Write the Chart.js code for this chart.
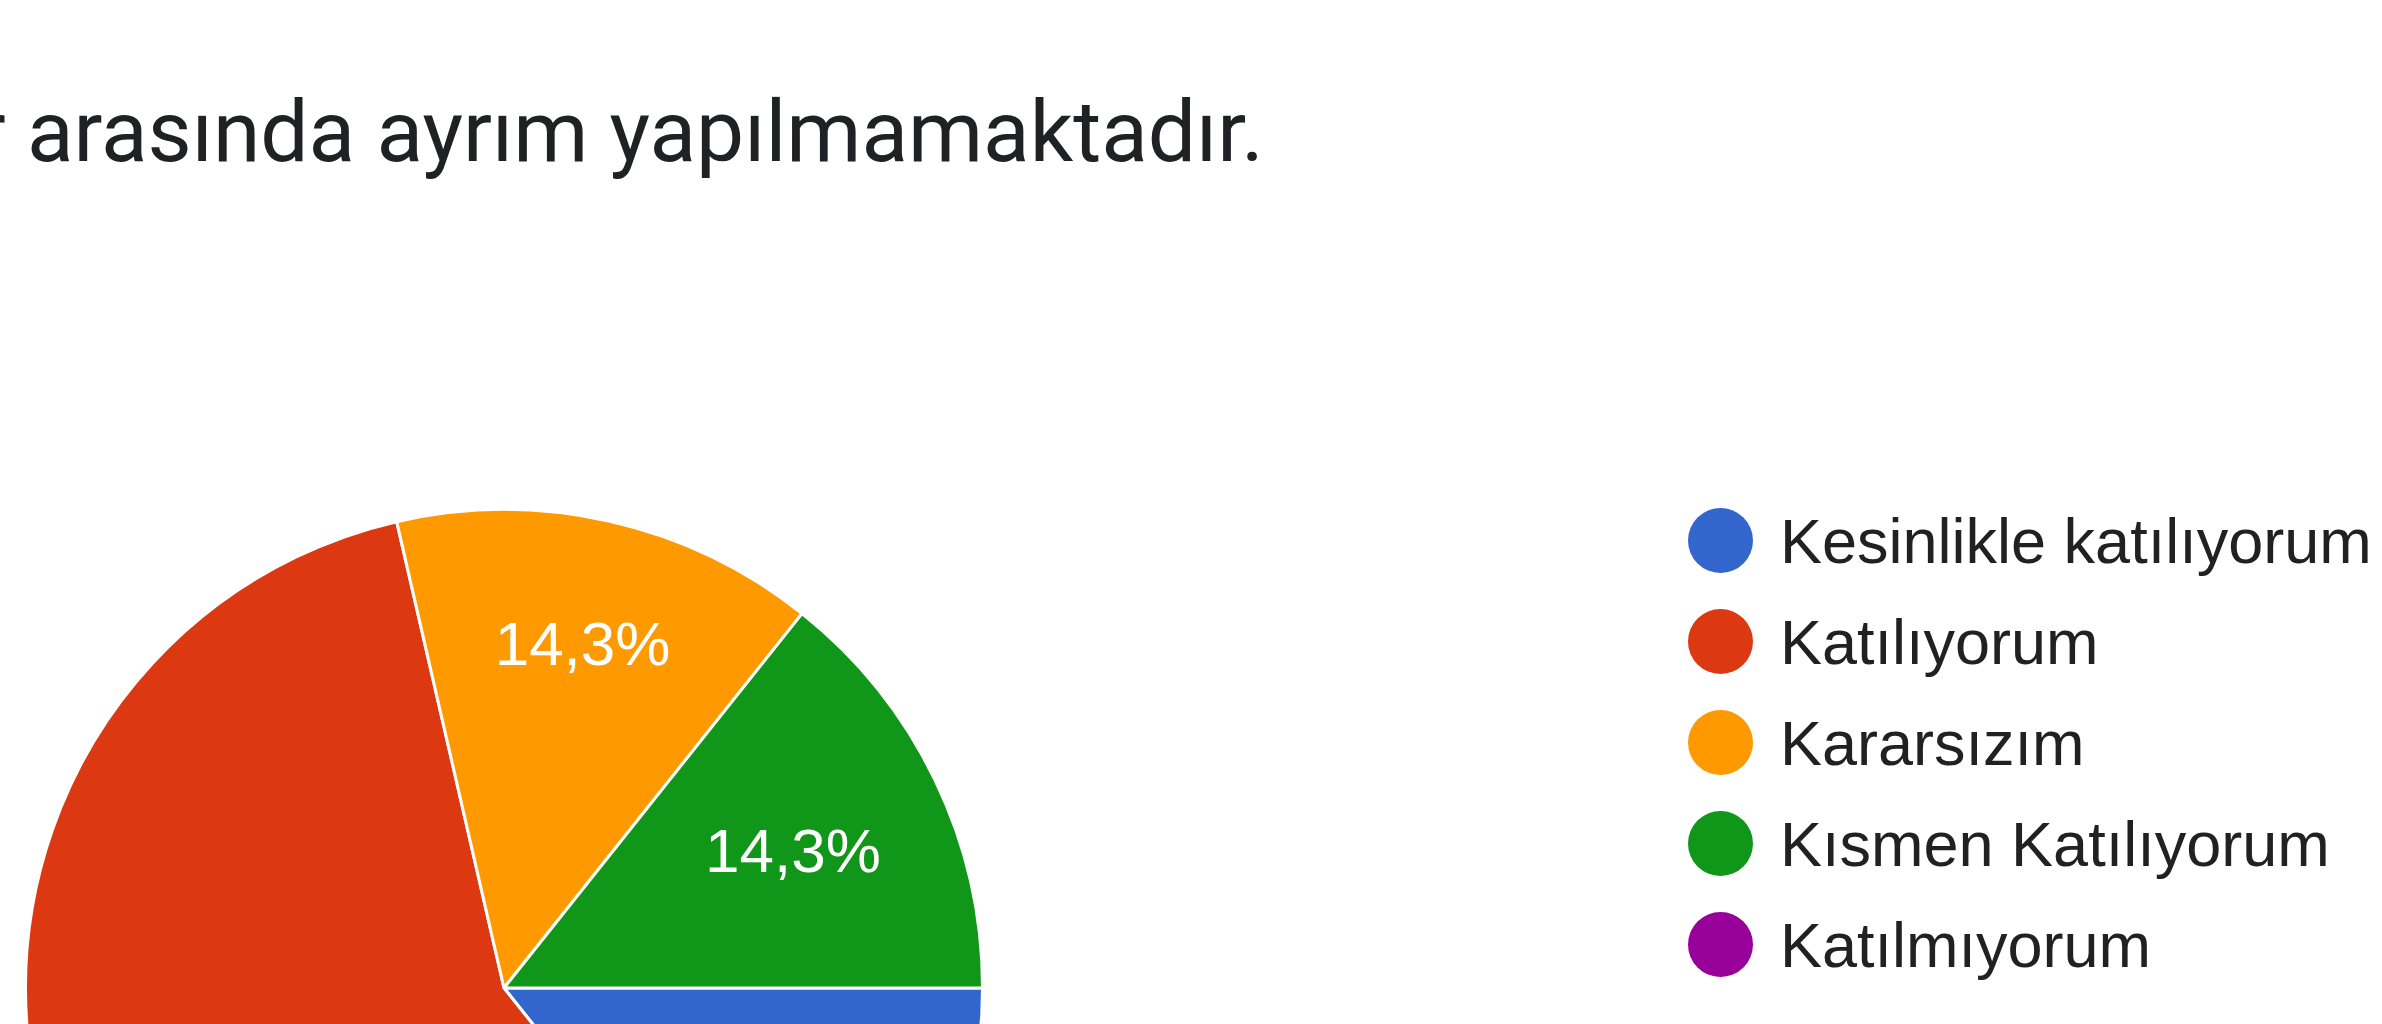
<!DOCTYPE html>
<html lang="tr">
<head>
<meta charset="utf-8">
<script src="https://cdn.jsdelivr.net/npm/chart.js@4.4.0/dist/chart.umd.min.js"></script>
<style>
    html, body {
        margin: 0;
        width: 2382px;
        height: 1024px;
        overflow: hidden;
        background: #ffffff;
    }
    #title {
        position: absolute;
        white-space: nowrap;
        font-family: Roboto, "Noto Sans", sans-serif;
        color: #202124;
    }
    #pieBox {
        position: absolute;
        left: 24px;
        top: 508px;
        width: 960px;
        height: 960px;
    }
    #legend {
        position: absolute;
        left: 1688px;
        top: 490px;
        font-family: "Liberation Sans", Arial, sans-serif;
        font-size: 63px;
        line-height: 68px;
        color: #212121;
    }
    .item {
        display: flex;
        align-items: center;
        height: 101px;
        white-space: nowrap;
    }
    .dot {
        width: 65px;
        height: 65px;
        border-radius: 50%;
        margin-right: 27px;
        flex: none;
    }
</style>
</head>
<body>
<div id="title"></div>
<div id="pieBox"><canvas id="pieChart"></canvas></div>
<div id="legend"></div>

<script>
// === données ===
const titre = "r arasında ayrım yapılmamaktadır.";
const categories = ["Kesinlikle katılıyorum", "Katılıyorum", "Kararsızım", "Kısmen Katılıyorum", "Katılmıyorum"];
const pourcentages = [14.3, 57.1, 14.3, 14.3, 0];
const couleurs = ["#3366cc", "#dc3912", "#ff9900", "#109618", "#990099"];

// titre : le "r" du début est coupé par le bord gauche
const titleEl = document.getElementById("title");
titleEl.textContent = titre;
const mctx = document.createElement("canvas").getContext("2d");
mctx.font = "100px Roboto";
const visible = titre.slice(2);
const taille = 100 * 1237 / mctx.measureText(visible).width;
mctx.font = taille + "px Roboto";
titleEl.style.fontSize = taille + "px";
titleEl.style.lineHeight = taille + "px";
titleEl.style.left = (27 - mctx.measureText("r ").width) + "px";
// ligne de base vers y = 162
titleEl.style.top = (162 - taille * 0.842) + "px";

// légende
const legend = document.getElementById("legend");
categories.forEach((cat, i) => {
    const row = document.createElement("div");
    row.className = "item";
    const dot = document.createElement("span");
    dot.className = "dot";
    dot.style.background = couleurs[i];
    const txt = document.createElement("span");
    txt.textContent = cat;
    row.appendChild(dot);
    row.appendChild(txt);
    legend.appendChild(row);
});

// étiquettes dans les parts : la boîte du texte est poussée vers le bord
const etiquettes = {
    id: "etiquettes",
    afterDatasetsDraw(chart) {
        const ctx = chart.ctx;
        const meta = chart.getDatasetMeta(0);
        ctx.save();
        ctx.fillStyle = "#ffffff";
        ctx.font = "62px 'Liberation Sans', Arial, sans-serif";
        ctx.textAlign = "center";
        ctx.textBaseline = "middle";
        meta.data.forEach((arc, i) => {
            const v = pourcentages[i];
            if (!v) return;
            const texte = v.toFixed(1).replace(".", ",") + "%";
            const p = arc.getProps(["x", "y", "startAngle", "endAngle", "outerRadius"], true);
            const mid = (p.startAngle + p.endAngle) / 2;
            const dx = Math.cos(mid), dy = Math.sin(mid);
            const hw = ctx.measureText(texte).width / 2 - 11, hh = 33;
            const r = p.outerRadius * 0.845 - (hw * Math.abs(dx) + hh * Math.abs(dy));
            ctx.fillText(texte, p.x + dx * r, p.y + dy * r + 6);
        });
        ctx.restore();
    }
};

new Chart(document.getElementById("pieChart"), {
    type: "pie",
    data: {
        labels: categories,
        datasets: [{
            data: pourcentages,
            backgroundColor: couleurs,
            borderColor: "#ffffff",
            borderWidth: 3
        }]
    },
    options: {
        responsive: true,
        maintainAspectRatio: false,
        animation: false,
        rotation: 90,
        plugins: {
            legend: { display: false },
            tooltip: { enabled: false }
        }
    },
    plugins: [etiquettes]
});
</script>
</body>
</html>
